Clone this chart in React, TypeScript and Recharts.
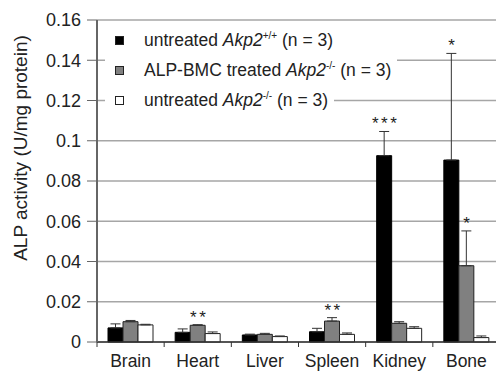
import { BarChart, Bar, XAxis, YAxis, CartesianGrid, ErrorBar, LabelList, Legend } from 'recharts';

const categories = ['Brain', 'Heart', 'Liver', 'Spleen', 'Kidney', 'Bone'];

// untreated Akp2+/+
const wtMean = [0.007, 0.0048, 0.0035, 0.0051, 0.0926, 0.0904];
const wtErr = [0.002, 0.0017, 0.0004, 0.0017, 0.012, 0.053];
const wtStars = ['', '', '', '', '***', '*'];

// ALP-BMC treated Akp2-/-
const bmcMean = [0.0101, 0.0083, 0.0038, 0.0104, 0.0093, 0.0379];
const bmcErr = [0.0006, 0.0003, 0.0005, 0.0017, 0.0008, 0.0173];
const bmcStars = ['', '**', '', '**', '', '*'];

// untreated Akp2-/-
const koMean = [0.0085, 0.0042, 0.0027, 0.0038, 0.0068, 0.0022];
const koErr = [0.0003, 0.0008, 0.0003, 0.0007, 0.0008, 0.0008];

const yTicks = [0, 0.02, 0.04, 0.06, 0.08, 0.1, 0.12, 0.14, 0.16];

const data = categories.map((name, i) => ({
  name,
  wt: wtMean[i],
  wtErr: [0, wtErr[i]],
  bmc: bmcMean[i],
  bmcErr: [0, bmcErr[i]],
  ko: koMean[i],
  koErr: [0, koErr[i]],
}));

const FONT = '"Liberation Sans", Arial, sans-serif';
const INK = '#222';

const legendRows = [
  { fill: '#000', label: <>untreated <i>Akp2</i><sup style={{ fontSize: 10, lineHeight: 0 }}>+/+</sup> (n = 3)</> },
  { fill: '#808080', label: <>ALP-BMC treated <i>Akp2</i><sup style={{ fontSize: 10, lineHeight: 0 }}>-/-</sup> (n = 3)</> },
  { fill: '#fff', label: <>untreated <i>Akp2</i><sup style={{ fontSize: 10, lineHeight: 0 }}>-/-</sup> (n = 3)</> },
];

const renderLegend = () => (
  <div style={{ fontFamily: FONT, fontSize: 17.5, color: INK }}>
    {legendRows.map((row, i) => (
      <div
        key={i}
        style={{
          display: 'flex',
          alignItems: 'center',
          height: 24,
          marginBottom: 6,
          width: 'fit-content',
          background: '#fff',
          paddingLeft: 10,
          paddingRight: 6,
          whiteSpace: 'nowrap',
        }}
      >
        <span
          style={{
            display: 'inline-block',
            width: 7,
            height: 7,
            background: row.fill,
            border: '1px solid #222',
            marginRight: 20,
          }}
        />
        <span>{row.label}</span>
      </div>
    ))}
  </div>
);

const starLabel = (stars: string[], errs: number[]) => (props: any) => {
  const vb = props.viewBox || {};
  const x = Number(props.x ?? vb.x);
  const y = Number(props.y ?? vb.y);
  const width = Number(props.width ?? vb.width);
  const height = Number(props.height ?? vb.height);
  const { value, index } = props;
  const s = stars[index];
  if (!s) return null;
  const capY = y - (errs[index] * height) / Number(value);
  return (
    <text
      x={x + width / 2 + 1.5}
      y={capY - 2}
      textAnchor="middle"
      fontFamily={FONT}
      fontSize={17}
      letterSpacing={2.5}
      fill={INK}
    >
      {s}
    </text>
  );
};

const CategoryTick = (props: any) => {
  const { x, y, payload, width, visibleTicksCount } = props;
  const bw = width && visibleTicksCount ? width / visibleTicksCount : 67;
  const axisY = y - 13;
  return (
    <g>
      <line x1={x - bw / 2} x2={x - bw / 2} y1={axisY} y2={axisY + 5} stroke="#333" />
      <text x={x} y={y} dy="0.71em" textAnchor="middle" fontFamily={FONT} fontSize={17.5} fill={INK}>
        {payload.value}
      </text>
    </g>
  );
};

export default function App() {
  return (
    <div style={{ position: 'absolute', left: 0, top: 0, width: 496, height: 372, overflow: 'hidden', background: '#fff' }}>
      <BarChart
        width={500}
        height={372}
        data={data}
        margin={{ top: 20, right: 0, bottom: 0, left: 0 }}
        barSize={15}
        barGap={0}
      >
        <CartesianGrid vertical={false} stroke="#a6a6a6" strokeWidth={1.5} />
        <XAxis
          dataKey="name"
          height={30}
          tickLine={false}
          tickSize={5}
          tickMargin={8}
          axisLine={{ stroke: '#333', strokeWidth: 1.5 }}
          tick={<CategoryTick />}
          interval={0}
        />
        <YAxis
          width={97}
          domain={[0, 0.16]}
          ticks={yTicks}
          interval={0}
          tickSize={10}
          tickMargin={6}
          axisLine={{ stroke: '#666', strokeWidth: 2 }}
          tickLine={{ stroke: '#666' }}
          tick={{ fontFamily: FONT, fontSize: 18, fill: INK }}
          label={() => (
            <text
              x={27}
              y={148}
              transform="rotate(-90, 27, 148)"
              textAnchor="middle"
              fontFamily={FONT}
              fontSize={19}
              fill={INK}
            >
              ALP activity (U/mg protein)
            </text>
          )}
        />
        <Legend
          layout="vertical"
          align="center"
          verticalAlign="middle"
          wrapperStyle={{ top: 28, left: 105, width: 'auto' }}
          content={renderLegend}
        />
        <Bar dataKey="wt" fill="#000" stroke="#000" isAnimationActive={false}>
          <ErrorBar dataKey="wtErr" direction="y" width={5} stroke="#333" strokeWidth={1} />
          <LabelList dataKey="wt" content={starLabel(wtStars, wtErr)} />
        </Bar>
        <Bar dataKey="bmc" fill="#808080" stroke="#222" isAnimationActive={false}>
          <ErrorBar dataKey="bmcErr" direction="y" width={5} stroke="#333" strokeWidth={1} />
          <LabelList dataKey="bmc" content={starLabel(bmcStars, bmcErr)} />
        </Bar>
        <Bar dataKey="ko" fill="#fff" stroke="#222" isAnimationActive={false}>
          <ErrorBar dataKey="koErr" direction="y" width={5} stroke="#333" strokeWidth={1} />
        </Bar>
      </BarChart>
    </div>
  );
}
